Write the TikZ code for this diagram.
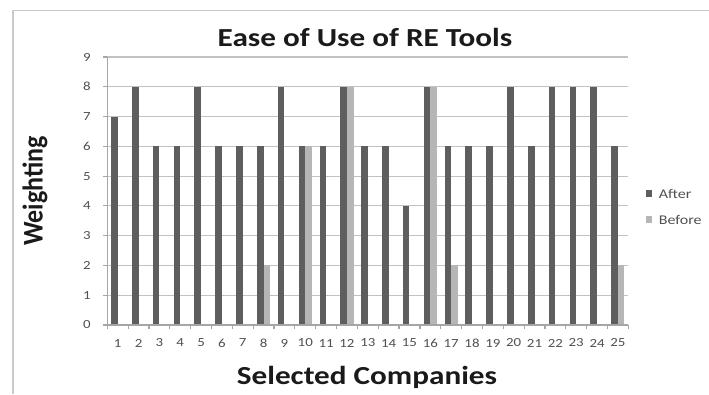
\documentclass[tikz,border=0pt]{standalone}
\usepackage{fontspec}
\setmainfont{Carlito}
\definecolor{aftc}{HTML}{5E5E5E}
\definecolor{befc}{HTML}{B6B6B6}
\definecolor{gridc}{HTML}{C2C2C2}
\definecolor{axc}{HTML}{A6A6A6}
\definecolor{frmc}{HTML}{CACACA}
\definecolor{tickc}{HTML}{505050}
\definecolor{headc}{HTML}{1A1A1A}
\tikzset{
  gridline/.style={draw=gridc,line width=0.9pt},
  axisline/.style={draw=axc,line width=0.9pt},
  frameline/.style={draw=frmc,line width=1.4pt},
  afterbar/.style={fill=aftc},
  beforebar/.style={fill=befc},
  ticklabel/.style={font=\fontsize{9.3}{10}\selectfont,text=tickc,inner sep=0pt,xscale=1.2,transform shape},
  headlabel/.style={font=\fontsize{19.5}{22}\selectfont\bfseries,text=headc,inner sep=0pt,xscale=1.2,transform shape},
  legendlabel/.style={font=\fontsize{10}{11}\selectfont,text=tickc,inner sep=0pt,anchor=west,xscale=1.2,transform shape}
}
\begin{document}
\begin{tikzpicture}[x=0.75pt,y=-0.75pt]
\useasboundingbox (0,0) rectangle (709,394);
\def\xl{107.3}
\def\xr{628.3}
\def\yb{325}
\def\yu{29.78}
\def\cw{20.84}
% frame
\draw[frameline] (13,394) -- (13,10.5) -- (709,10.5);
% gridlines
\foreach \k in {1,...,9}{
  \draw[gridline] (\xl,{\yb-\k*\yu}) -- (\xr,{\yb-\k*\yu});
}
% bars
\foreach \i/\a/\b in {1/7/0,2/8/0,3/6/0,4/6/0,5/8/0,6/6/0,7/6/0,8/6/2,9/8/0,10/6/6,11/6/0,12/8/8,13/6/0,14/6/0,15/4/0,16/8/8,17/6/2,18/6/0,19/6/0,20/8/0,21/6/0,22/8/0,23/8/0,24/8/0,25/6/2}{
  \pgfmathsetmacro\c{\xl+(\i-0.5)*\cw}
  \fill[afterbar] ({\c-6.6},\yb) rectangle (\c,{\yb-\a*\yu});
  \ifnum\b>0
    \fill[beforebar] (\c,\yb) rectangle ({\c+6.6},{\yb-\b*\yu});
  \fi
  \node[ticklabel] (xl\i) at (\c,343) {\i};
}
% axes
\draw[axisline] (\xl,{\yb-9*\yu}) -- (\xl,\yb) -- (\xr,\yb);
\foreach \k in {0,...,9}{
  \draw[axisline] ({\xl-4},{\yb-\k*\yu}) -- (\xl,{\yb-\k*\yu});
  \node[ticklabel,anchor=east] (yl\k) at (91,{\yb-\k*\yu}) {\k};
}
\foreach \i in {0,...,25}{
  \draw[axisline] ({\xl+\i*\cw},\yb) -- ({\xl+\i*\cw},{\yb+4});
}
% titles
\node[headlabel,anchor=base] (title) at (365,46) {Ease of Use of RE Tools};
\node[headlabel,anchor=base] (xtitle) at (367,384) {Selected Companies};
\node[font=\fontsize{19.5}{22}\selectfont\bfseries,text=headc,inner sep=0pt,xscale=1.1,rotate=90,transform shape] (ytitle) at (35,191) {Weighting};
% legend
\fill[afterbar] (646,190) rectangle (652,196.5);
\node[legendlabel] (lafter) at (658.5,193.5) {After};
\fill[beforebar] (646,216) rectangle (652,222.5);
\node[legendlabel] (lbefore) at (658.5,219.5) {Before};
\end{tikzpicture}
\end{document}
